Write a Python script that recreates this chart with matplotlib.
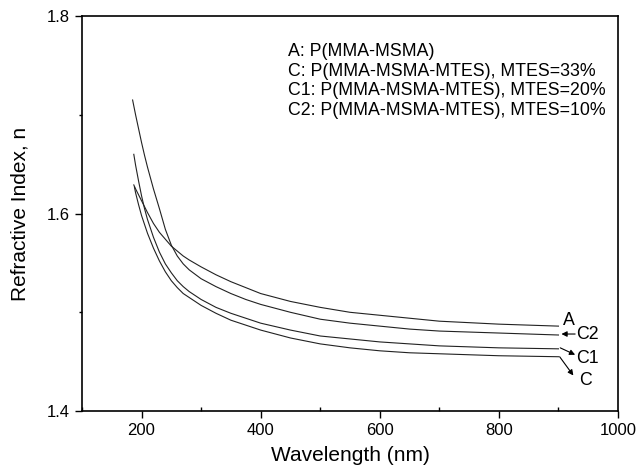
import matplotlib
matplotlib.use("Agg")
import matplotlib.pyplot as plt
from matplotlib.ticker import MultipleLocator

plt.rcParams['font.family'] = ['Liberation Sans', 'DejaVu Sans']

# Data (wavelength in nm, refractive index n)
wl_A = [187, 190, 195, 200, 210, 220, 230, 240, 250, 260, 270, 280, 300, 325, 350, 375, 400,
        450, 500, 550, 600, 650, 700, 800, 900]
n_A = [1.629, 1.625, 1.619, 1.613, 1.601, 1.590, 1.581, 1.574, 1.567, 1.562, 1.557, 1.553, 1.546,
       1.538, 1.531, 1.525, 1.519, 1.511, 1.505, 1.500, 1.497, 1.494, 1.491, 1.488, 1.486]

wl_C2 = [185, 190, 195, 200, 205, 210, 220, 230, 240, 250, 260, 270, 280, 300, 325, 350, 375, 400,
         450, 500, 550, 600, 650, 700, 800, 900]
n_C2 = [1.715, 1.700, 1.686, 1.672, 1.659, 1.647, 1.625, 1.605, 1.584, 1.568, 1.557, 1.549, 1.543,
        1.534, 1.526, 1.519, 1.513, 1.508, 1.500, 1.493, 1.489, 1.486, 1.483, 1.481, 1.479, 1.477]

wl_C1 = [187, 190, 195, 200, 205, 210, 220, 230, 240, 250, 260, 270, 280, 300, 325, 350, 375, 400,
         450, 500, 550, 600, 650, 700, 800, 900]
n_C1 = [1.660, 1.649, 1.633, 1.618, 1.605, 1.594, 1.576, 1.561, 1.549, 1.540, 1.532, 1.526, 1.521,
        1.513, 1.505, 1.499, 1.494, 1.489, 1.482, 1.476, 1.473, 1.470, 1.468, 1.466, 1.464, 1.463]

wl_C = [188, 190, 195, 200, 205, 210, 220, 230, 240, 250, 260, 270, 280, 300, 325, 350, 375, 400,
        450, 500, 550, 600, 650, 700, 800, 900]
n_C = [1.627, 1.621, 1.609, 1.598, 1.589, 1.580, 1.565, 1.552, 1.541, 1.532, 1.525, 1.519, 1.515,
       1.507, 1.499, 1.492, 1.487, 1.482, 1.474, 1.468, 1.464, 1.461, 1.459, 1.458, 1.456, 1.455]

legend_lines = ["A: P(MMA-MSMA)",
                "C: P(MMA-MSMA-MTES), MTES=33%",
                "C1: P(MMA-MSMA-MTES), MTES=20%",
                "C2: P(MMA-MSMA-MTES), MTES=10%"]

fig = plt.figure(figsize=(6.37, 4.73), dpi=100)
ax = fig.add_axes([0.1287, 0.131, 0.8415, 0.835])

for wl, n in [(wl_A, n_A), (wl_C2, n_C2), (wl_C1, n_C1), (wl_C, n_C)]:
    ax.plot(wl, n, color='#222222', lw=0.8)

ax.set_xlim(100, 1000)
ax.set_ylim(1.4, 1.8)
ax.set_xticks([200, 400, 600, 800, 1000])
ax.set_yticks([1.4, 1.6, 1.8])
ax.xaxis.set_minor_locator(MultipleLocator(100))
ax.yaxis.set_minor_locator(MultipleLocator(0.1))
ax.tick_params(which='major', direction='out', length=5, width=1, labelsize=12, top=False, right=False)
ax.tick_params(axis='x', which='minor', direction='in', length=3, width=1, top=False)
ax.tick_params(axis='y', which='minor', direction='out', length=2.5, width=1, right=False)
for s in ax.spines.values():
    s.set_linewidth(1.2)

ax.set_xlabel("Wavelength (nm)", fontsize=15, labelpad=6)
ax.set_ylabel("Refractive Index, n", fontsize=15, labelpad=13)

# legend text block
for i, t in enumerate(legend_lines):
    ax.text(446, 1.764 - i * 0.0198, t, fontsize=12.8, va='center', ha='left')

# curve labels with arrows
arrow = dict(arrowstyle='-|>', color='black', lw=0.8, mutation_scale=8, shrinkA=0, shrinkB=0)
ax.text(918, 1.492, "A", fontsize=12.8, ha='center', va='center')
ax.annotate("", xy=(905, 1.478), xytext=(928, 1.478), arrowprops=arrow)
ax.text(929, 1.478, "C2", fontsize=12.8, va='center', ha='left')
ax.annotate("", xy=(928, 1.457), xytext=(903, 1.464), arrowprops=arrow)
ax.text(929, 1.453, "C1", fontsize=12.8, va='center', ha='left')
ax.annotate("", xy=(925, 1.436), xytext=(902, 1.455), arrowprops=arrow)
ax.text(934, 1.431, "C", fontsize=12.8, va='center', ha='left')

fig.savefig("out.png", dpi=100)
